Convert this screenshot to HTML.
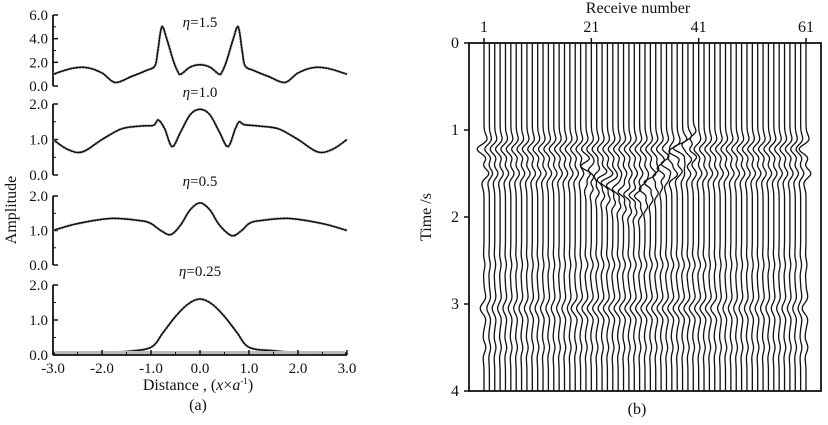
<!DOCTYPE html>
<html><head><meta charset="utf-8">
<style>
body{margin:0;background:#fff}
svg text{font-family:"Liberation Serif",serif;fill:#111}
</style></head>
<body>
<svg width="828" height="420" viewBox="0 0 828 420" xmlns="http://www.w3.org/2000/svg">
<g id="left"></g>
<g id="right"></g>
</svg>
<script>
// ---- Panel (a) data ----
const etaLabels = ["η=1.5","η=1.0","η=0.5","η=0.25"];
const yMax = [6,2,2,2];
const yTicks = [["6.0","4.0","2.0","0.0"],["2.0","1.0","0.0"],["2.0","1.0","0.0"],["2.0","1.0","0.0"]];
const xTickLabels = ["-3.0","-2.0","-1.0","0.0","1.0","2.0","3.0"];
const curveX15 = [-3,-2.6,-2.3,-2,-1.73,-1.4,-1.1,-0.92,-0.86,-0.78,-0.68,-0.55,-0.45,-0.39,-0.2,0,0.2,0.39,0.45,0.55,0.68,0.78,0.86,0.92,1.1,1.4,1.73,2,2.3,2.6,3];
const curveY15 = [1.0,1.5,1.55,1.1,0.3,0.8,1.3,1.7,3.0,5.0,4.0,2.2,1.2,1.0,1.6,1.8,1.6,1.0,1.2,2.2,4.0,5.0,3.0,1.7,1.3,0.8,0.3,1.1,1.55,1.5,1.0];
const curveX10 = [-3,-2.7,-2.4,-2.0,-1.6,-1.2,-0.95,-0.85,-0.72,-0.57,-0.4,-0.2,0,0.2,0.4,0.57,0.72,0.8,0.9,1.2,1.6,2.0,2.4,2.7,3];
const curveY10 = [1.0,0.72,0.65,1.0,1.3,1.38,1.4,1.55,1.3,0.8,1.2,1.7,1.85,1.7,1.2,0.8,1.3,1.5,1.42,1.38,1.3,1.0,0.65,0.72,1.0];
const curveX05 = [-3,-2.5,-1.8,-1.2,-1.0,-0.8,-0.6,-0.4,-0.2,0,0.2,0.4,0.65,0.85,1.0,1.2,1.8,2.5,3];
const curveY05 = [1.0,1.2,1.35,1.28,1.2,1.0,0.88,1.15,1.6,1.8,1.6,1.15,0.85,1.0,1.2,1.28,1.35,1.2,1.0];
const curveX025 = [-3,-2,-1.5,-1,-0.75,-0.5,-0.25,0,0.25,0.5,0.75,1,1.5,2,3];
const curveY025 = [0.05,0.07,0.1,0.22,0.65,1.1,1.45,1.6,1.45,1.1,0.65,0.22,0.12,0.07,0.05];
const curvesX=[curveX15,curveX10,curveX05,curveX025], curvesY=[curveY15,curveY10,curveY05,curveY025];

// ---- Panel (b) data ----
const receiverTicks = [1,21,41,61];
const timeTicks = [0,1,2,3,4];
const directTime = 1.3;
const diffRecv = [20,22,24,26,28,30,32,34,36,38,40];
const diffTime = [1.42,1.52,1.6,1.68,1.74,1.76,1.6,1.45,1.32,1.2,1.1];
const lateTime = 3.05;

const NS="http://www.w3.org/2000/svg";
function el(tag,attrs,parent,txt){const e=document.createElementNS(NS,tag);for(const k in attrs)e.setAttribute(k,attrs[k]);if(txt!==undefined)e.textContent=txt;parent.appendChild(e);return e;}
const L=document.getElementById('left'), R=document.getElementById('right');

const ax0=53, ax1=347;
const xA=v=>ax0+(v+3)/6*(ax1-ax0);
const panels=[{top:15,bot:86},{top:104,bot:175},{top:196,bot:265},{top:285,bot:355}];
const labelY=[27,97,186,276];
function catmull(pts){let d="M"+pts[0][0]+","+pts[0][1];for(let i=0;i<pts.length-1;i++){const p0=pts[Math.max(0,i-1)],p1=pts[i],p2=pts[i+1],p3=pts[Math.min(pts.length-1,i+2)];const c1=[p1[0]+(p2[0]-p0[0])/6,p1[1]+(p2[1]-p0[1])/6],c2=[p2[0]-(p3[0]-p1[0])/6,p2[1]-(p3[1]-p1[1])/6];d+=` C${c1[0].toFixed(1)},${c1[1].toFixed(1)} ${c2[0].toFixed(1)},${c2[1].toFixed(1)} ${p2[0].toFixed(1)},${p2[1].toFixed(1)}`;}return d;}
panels.forEach((p,k)=>{
  const yA=v=>p.bot-v/yMax[k]*(p.bot-p.top);
  const g=el('g',{},L);
  
  
  const ax=el('line',{x1:ax0,y1:p.top,x2:ax0,y2:p.bot,stroke:'#111','stroke-width':1.8},g);
  
  
  const n=yTicks[k].length;
  yTicks[k].forEach((t,i)=>{
    const y=p.top+i*(p.bot-p.top)/(n-1);
    el('line',{x1:ax0,y1:y,x2:ax0+5,y2:y,stroke:'#111','stroke-width':1.5},g);
    const tx=el('text',{x:48,y:y+5,'text-anchor':'end','font-size':15},g,t);
    
    
    if(i<n-1){const ym=y+(p.bot-p.top)/(n-1)/2;el('line',{x1:ax0,y1:ym,x2:ax0+3,y2:ym,stroke:'#111','stroke-width':1},g);}
  });
  const pts=curvesX[k].map((x,i)=>[xA(x),yA(curvesY[k][i])]);
  const an=el('path',{d:catmull(pts),fill:'none',stroke:'#999','stroke-width':2.6,'stroke-dasharray':'2 1'},g);
  
  
  const c=el('path',{d:catmull(pts),fill:'none',stroke:'#111','stroke-width':1.5},g);
  
  
  const lb=el('text',{x:200,y:labelY[k],'text-anchor':'middle','font-size':15},g);
  
  
  el('tspan',{'font-style':'italic'},lb,etaLabels[k].slice(0,1));
  el('tspan',{},lb,etaLabels[k].slice(1));
});
{
  const y=355;
  const xa=el('line',{x1:ax0,y1:y,x2:ax1,y2:y,stroke:'#111','stroke-width':1.8},L);
  
  
  el('rect',{x:ax0+2,y:y-4,width:ax1-ax0-4,height:3,fill:'#bbb'},L);
  xTickLabels.forEach((t,i)=>{
    const v=-3+i;const x=xA(v);
    el('line',{x1:x,y1:y,x2:x,y2:y-5,stroke:'#111','stroke-width':1.5},L);
    if(i<6)el('line',{x1:xA(v+0.5),y1:y,x2:xA(v+0.5),y2:y-3,stroke:'#111','stroke-width':1},L);
    const tx=el('text',{x:x,y:373,'text-anchor':'middle','font-size':15},L,t);
    
    
  });
  const xt=el('text',{x:198,y:390,'text-anchor':'middle','font-size':16},L);
  
  
  el('tspan',{},xt,'Distance , (');el('tspan',{'font-style':'italic'},xt,'x');el('tspan',{},xt,'×');el('tspan',{'font-style':'italic'},xt,'a');el('tspan',{'font-size':9,dy:-6},xt,'-1');el('tspan',{dy:6},xt,')');
  const yt=el('text',{x:16,y:210,'text-anchor':'middle','font-size':16,transform:'rotate(-90 16 210)'},L,'Amplitude');
  
  
  const ca=el('text',{x:198,y:410,'text-anchor':'middle','font-size':16},L,'(a)');
  
  
}

// ---- Panel (b) ----
const bx0=469,bx1=821,by0=43,by1=391;
const xR=r=>484+(r-1)*(806-484)/60;
const yT=t=>by0+t/4*(by1-by0);
function ricker(t,f){const a=Math.PI*Math.PI*f*f*t*t;return (1-2*a)*Math.exp(-a);}
function diffAt(r){if(r<diffRecv[0]||r>diffRecv[diffRecv.length-1])return null;for(let i=0;i<diffRecv.length-1;i++){if(r<=diffRecv[i+1]){const u=(r-diffRecv[i])/(diffRecv[i+1]-diffRecv[i]);return diffTime[i]+u*(diffTime[i+1]-diffTime[i]);}}return null;}
const tr=el('g',{},R);


for(let r=1;r<=61;r++){
  const x0=xR(r);let d="";
  const td=diffAt(r);
  const edge=(r===1||r===61)?1.5:1;
  for(let s=0;s<=400;s++){
    const t=s/100;
    let a=0;
    a+= -4.5*edge*(ricker(t-directTime+0.08,3.2)-0.7*ricker(t-directTime-0.2,3.2));
    if(td!==null)a+= -5*ricker(t-td,4)+2.5*ricker(t-td-0.2,4);
    const mid=(r>=18&&r<=44)?1.6:1.0;
    a+= -2.5*mid*ricker(t-lateTime,2.8)*edge;
    a+= 1.5*ricker(t-2.55,3)*((r>=20&&r<=42)?1.2:0.6);
    a+= 1.2*ricker(t-3.5,3)*edge;
    const x=x0+a, y=yT(t);
    d+=(s?"L":"M")+x.toFixed(2)+","+y.toFixed(2);
  }
  const p=el('path',{d:d,fill:'none',stroke:'#111','stroke-width':1.3},tr);
  
  
}
const box=el('rect',{x:bx0,y:by0,width:bx1-bx0,height:by1-by0,fill:'none',stroke:'#111','stroke-width':1.8},R);


receiverTicks.forEach(r=>{
  const x=xR(r);
  el('line',{x1:x,y1:by0,x2:x,y2:by0-5,stroke:'#111','stroke-width':1.5},R);
  const t=el('text',{x:x,y:32,'text-anchor':'middle','font-size':16},R,String(r));
  
  
});
timeTicks.forEach(v=>{
  const y=yT(v);
  el('line',{x1:bx0-5,y1:y,x2:bx0,y2:y,stroke:'#111','stroke-width':1.5},R);
  const t=el('text',{x:459,y:y+5,'text-anchor':'end','font-size':16},R,String(v));
  
  
});
const rt=el('text',{x:638,y:13,'text-anchor':'middle','font-size':16},R,'Receive number');


const tt=el('text',{x:431,y:217,'text-anchor':'middle','font-size':16,transform:'rotate(-90 431 217)'},R,'Time /s');


const cb=el('text',{x:637,y:414,'text-anchor':'middle','font-size':16},R,'(b)');


</script>
</body></html>
